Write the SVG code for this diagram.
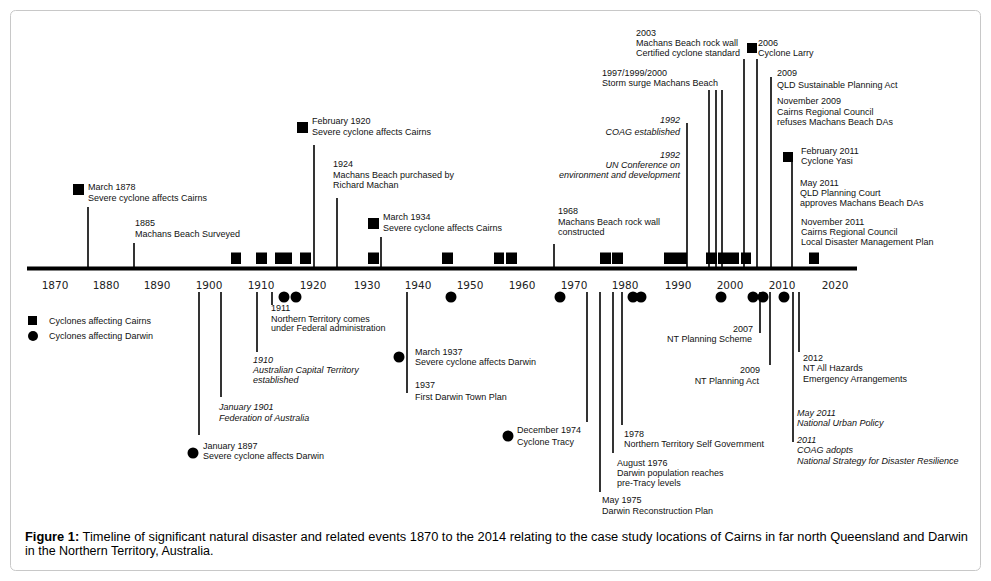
<svg xmlns="http://www.w3.org/2000/svg" width="991" height="581" viewBox="0 0 991 581">
<style>
text{font-family:"Liberation Sans",Arial,sans-serif;font-size:9px;fill:#111}
.i{font-style:italic}
.r{text-anchor:end}
.yr{font-family:"DejaVu Sans",Verdana,sans-serif;font-size:10.5px;text-anchor:middle;fill:#222}
.cap{font-size:12.5px;fill:#000}
.c line{stroke:#000;stroke-width:1.6}
.sq{fill:#000}
</style>
<rect x="10.5" y="10.5" width="970" height="560" rx="5" fill="#fff" stroke="#c8c8c8"/>
<g id="axis">
<rect x="27" y="266.5" width="830" height="4" fill="#000"/>
<text class="yr" x="55" y="289">1870</text>
<text class="yr" x="106" y="289">1880</text>
<text class="yr" x="157" y="289">1890</text>
<text class="yr" x="209" y="289">1900</text>
<text class="yr" x="261" y="289">1910</text>
<text class="yr" x="313" y="289">1920</text>
<text class="yr" x="367" y="289">1930</text>
<text class="yr" x="418" y="289">1940</text>
<text class="yr" x="470" y="289">1950</text>
<text class="yr" x="522" y="289">1960</text>
<text class="yr" x="574" y="289">1970</text>
<text class="yr" x="625" y="289">1980</text>
<text class="yr" x="678" y="289">1990</text>
<text class="yr" x="730" y="289">2000</text>
<text class="yr" x="782" y="289">2010</text>
<text class="yr" x="835" y="289">2020</text>
</g>
<g id="legend">
<rect class="sq" x="28" y="316" width="9" height="9"/>
<text x="49" y="324">Cyclones affecting Cairns</text>
<circle cx="33" cy="336" r="5"/>
<text x="49" y="339">Cyclones affecting Darwin</text>
</g>
<g class="c" id="connectors">
<line x1="88" y1="207" x2="88" y2="267"/>
<line x1="134" y1="243" x2="134" y2="267"/>
<line x1="314" y1="145" x2="314" y2="267"/>
<line x1="337" y1="198" x2="337" y2="267"/>
<line x1="381" y1="237" x2="381" y2="267"/>
<line x1="554" y1="244" x2="554" y2="267"/>
<line x1="687" y1="123" x2="687" y2="267"/>
<line x1="709" y1="90" x2="709" y2="267"/>
<line x1="716" y1="90" x2="716" y2="267"/>
<line x1="722" y1="90" x2="722" y2="267"/>
<line x1="744" y1="59" x2="744" y2="267"/>
<line x1="757" y1="59" x2="757" y2="267"/>
<line x1="771" y1="77" x2="771" y2="267"/>
<line x1="792" y1="162" x2="792" y2="267"/>
<line x1="199" y1="292" x2="199" y2="435"/>
<line x1="221" y1="292" x2="221" y2="397"/>
<line x1="257" y1="292" x2="257" y2="352"/>
<line x1="272" y1="292" x2="272" y2="305"/>
<line x1="407" y1="292" x2="407" y2="393"/>
<line x1="587" y1="292" x2="587" y2="422"/>
<line x1="600" y1="292" x2="600" y2="492"/>
<line x1="613" y1="292" x2="613" y2="453"/>
<line x1="622" y1="292" x2="622" y2="425"/>
<line x1="760" y1="292" x2="760" y2="333"/>
<line x1="770" y1="292" x2="770" y2="365"/>
<line x1="793" y1="292" x2="793" y2="442"/>
<line x1="799" y1="292" x2="799" y2="352"/>
</g>
<g id="cairns-cyclones">
<rect class="sq" x="231" y="252.5" width="10" height="11.5"/>
<rect class="sq" x="256" y="252.5" width="11" height="11.5"/>
<rect class="sq" x="275" y="252.5" width="17" height="11.5"/>
<rect class="sq" x="300" y="252.5" width="11" height="11.5"/>
<rect class="sq" x="368" y="252.5" width="11" height="11.5"/>
<rect class="sq" x="442" y="252.5" width="11" height="11.5"/>
<rect class="sq" x="494" y="252.5" width="10" height="11.5"/>
<rect class="sq" x="506" y="252.5" width="11" height="11.5"/>
<rect class="sq" x="600" y="252.5" width="11" height="11.5"/>
<rect class="sq" x="612" y="252.5" width="11" height="11.5"/>
<rect class="sq" x="664" y="252.5" width="23" height="11.5"/>
<rect class="sq" x="706" y="252.5" width="11" height="11.5"/>
<rect class="sq" x="718" y="252.5" width="21" height="11.5"/>
<rect class="sq" x="741" y="252.5" width="10" height="11.5"/>
<rect class="sq" x="809" y="252.5" width="10" height="11.5"/>
</g>
<g id="darwin-cyclones">
<circle cx="284" cy="297" r="5.5"/>
<circle cx="296" cy="297" r="5.5"/>
<circle cx="451" cy="297" r="5.5"/>
<circle cx="560" cy="297" r="5.5"/>
<circle cx="633" cy="297" r="5.5"/>
<circle cx="641" cy="297" r="5.5"/>
<circle cx="721" cy="297" r="5.5"/>
<circle cx="753" cy="297" r="5.5"/>
<circle cx="763" cy="297" r="5.5"/>
<circle cx="784" cy="297" r="5.5"/>
</g>
<g id="e1878"><rect class="sq" x="73" y="184" width="11" height="11"/><text x="88" y="190">March 1878</text><text x="88" y="201">Severe cyclone affects Cairns</text></g>
<g id="e1885"><text x="135" y="226">1885</text><text x="135" y="237">Machans Beach Surveyed</text></g>
<g id="e1920"><rect class="sq" x="297" y="122" width="11" height="11"/><text x="312" y="124">February 1920</text><text x="312" y="135">Severe cyclone affects Cairns</text></g>
<g id="e1924"><text x="333" y="167">1924</text><text x="333" y="178">Machans Beach purchased by</text><text x="333" y="188">Richard Machan</text></g>
<g id="e1934"><rect class="sq" x="368" y="218" width="11" height="11"/><text x="383" y="220">March 1934</text><text x="383" y="231">Severe cyclone affects Cairns</text></g>
<g id="e1968"><text x="558" y="214">1968</text><text x="558" y="225">Machans Beach rock wall</text><text x="558" y="235">constructed</text></g>
<g id="e1992a"><text class="i r" x="680" y="123">1992</text><text class="i r" x="680" y="135">COAG established</text></g>
<g id="e1992b"><text class="i r" x="680" y="158">1992</text><text class="i r" x="680" y="168">UN Conference on</text><text class="i r" x="680" y="178">environment and development</text></g>
<g id="e1997"><text x="602" y="76">1997/1999/2000</text><text x="602" y="86">Storm surge Machans Beach</text></g>
<g id="e2003"><text x="636" y="36">2003</text><text x="636" y="46">Machans Beach rock wall</text><text x="636" y="56">Certified cyclone standard</text></g>
<g id="e2006"><rect class="sq" x="747" y="43" width="10" height="10"/><text x="758" y="46">2006</text><text x="758" y="56">Cyclone Larry</text></g>
<g id="e2009"><text x="777" y="76">2009</text><text x="777" y="88">QLD Sustainable Planning Act</text></g>
<g id="e2009nov"><text x="777" y="104">November 2009</text><text x="777" y="115">Cairns Regional Council</text><text x="777" y="125">refuses Machans Beach DAs</text></g>
<g id="e2011feb"><rect class="sq" x="783" y="152" width="10" height="10"/><text x="801" y="154">February 2011</text><text x="801" y="164">Cyclone Yasi</text></g>
<g id="e2011may"><text x="800" y="186">May 2011</text><text x="800" y="196">QLD Planning Court</text><text x="800" y="206">approves Machans Beach DAs</text></g>
<g id="e2011nov"><text x="801" y="225">November 2011</text><text x="801" y="235">Cairns Regional Council</text><text x="801" y="245">Local Disaster Management Plan</text></g>
<g id="d1911"><text x="271" y="311">1911</text><text x="271" y="322">Northern Territory comes</text><text x="271" y="331">under Federal administration</text></g>
<g id="d1910"><text class="i" x="253" y="363">1910</text><text class="i" x="253" y="373">Australian Capital Territory</text><text class="i" x="253" y="383">established</text></g>
<g id="d1901"><text class="i" x="219" y="410">January 1901</text><text class="i" x="219" y="421">Federation of Australia</text></g>
<g id="d1897"><circle cx="193" cy="453" r="5.5"/><text x="203" y="449">January 1897</text><text x="203" y="459">Severe cyclone affects Darwin</text></g>
<g id="d1937"><circle cx="399" cy="357" r="5.5"/><text x="415" y="355">March 1937</text><text x="415" y="365">Severe cyclone affects Darwin</text><text x="415" y="388">1937</text><text x="415" y="400">First Darwin Town Plan</text></g>
<g id="d1974"><circle cx="508" cy="436" r="5.5"/><text x="517" y="433">December 1974</text><text x="517" y="445">Cyclone Tracy</text></g>
<g id="d1975"><text x="602" y="503">May 1975</text><text x="602" y="514">Darwin Reconstruction Plan</text></g>
<g id="d1976"><text x="617" y="466">August 1976</text><text x="617" y="476">Darwin population reaches</text><text x="617" y="486">pre-Tracy levels</text></g>
<g id="d1978"><text x="624" y="437">1978</text><text x="624" y="447">Northern Territory Self Government</text></g>
<g id="d2007"><text class="r" x="753" y="332">2007</text><text class="r" x="752" y="342">NT Planning Scheme</text></g>
<g id="d2009"><text class="r" x="760" y="373">2009</text><text class="r" x="759" y="384">NT Planning Act</text></g>
<g id="d2012"><text x="803" y="361">2012</text><text x="803" y="371">NT All Hazards</text><text x="803" y="382">Emergency Arrangements</text></g>
<g id="d2011may"><text class="i" x="797" y="416">May 2011</text><text class="i" x="797" y="426">National Urban Policy</text></g>
<g id="d2011"><text class="i" x="797" y="443">2011</text><text class="i" x="797" y="453">COAG adopts</text><text class="i" x="797" y="464">National Strategy for Disaster Resilience</text></g>
<g id="caption">
<text class="cap" x="25" y="541" textLength="943" lengthAdjust="spacingAndGlyphs"><tspan font-weight="bold">Figure 1:</tspan> Timeline of significant natural disaster and related events 1870 to the 2014 relating to the case study locations of Cairns in far north Queensland and Darwin</text>
<text class="cap" x="25" y="555">in the Northern Territory, Australia.</text>
</g>
</svg>
